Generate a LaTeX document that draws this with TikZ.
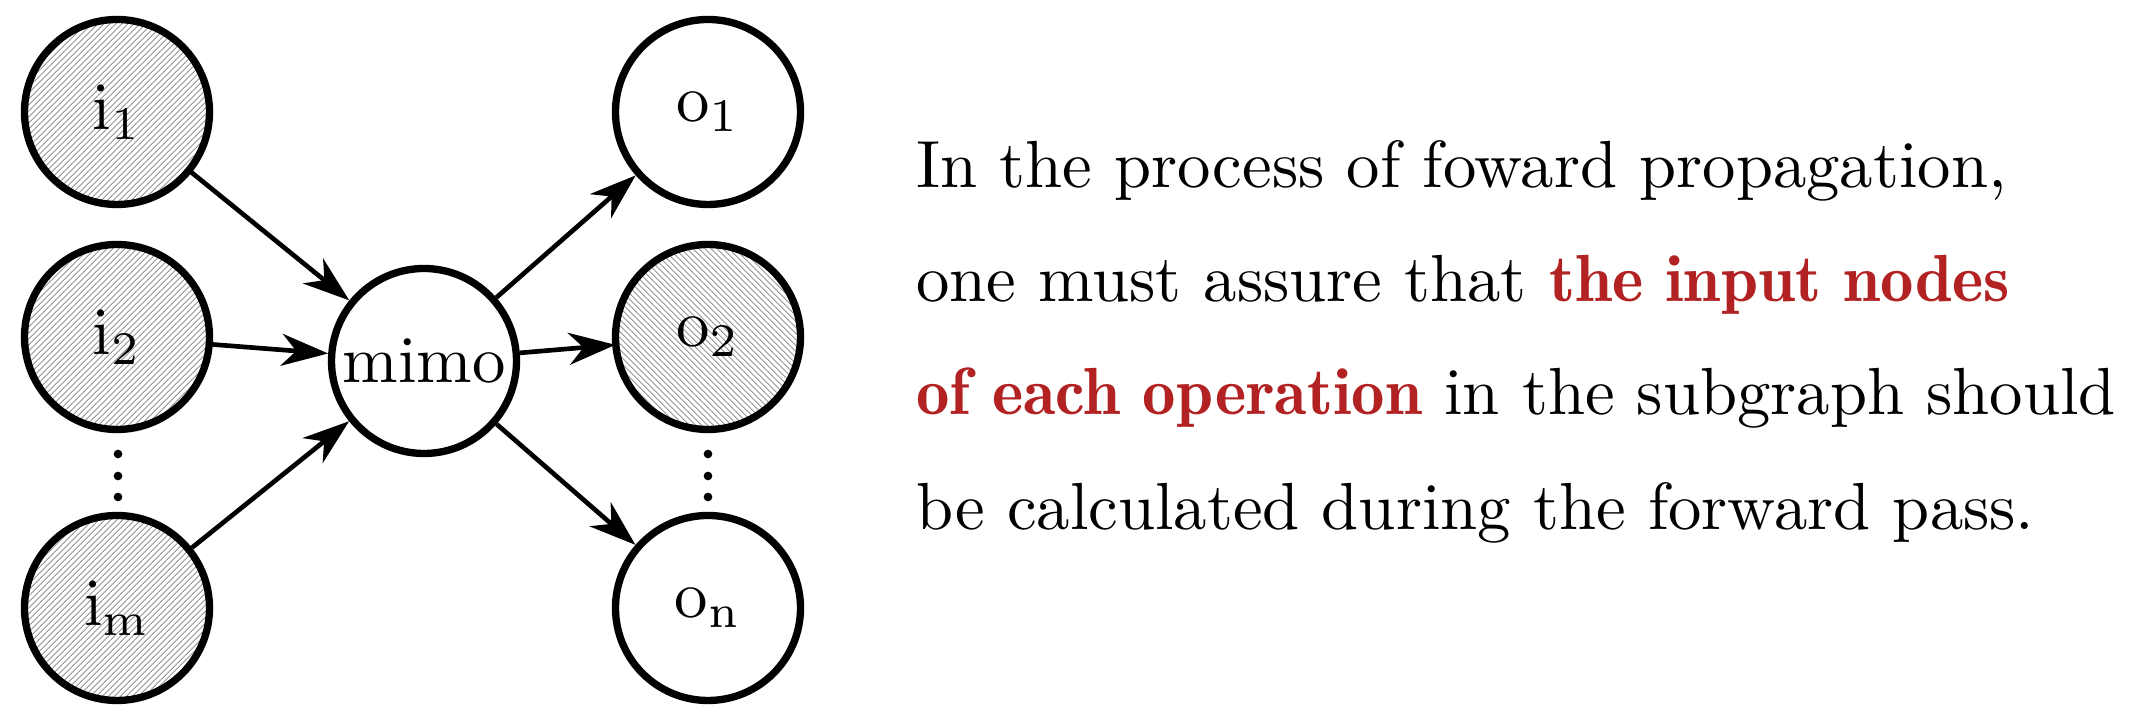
\documentclass[tikz,border=0pt]{standalone}
\usetikzlibrary{arrows.meta,patterns.meta}
\definecolor{hl}{RGB}{178,34,34}
\newcommand{\hlbold}[1]{\textcolor{hl}{\fontseries{b}\selectfont #1}}
\begin{document}
\begin{tikzpicture}[x=0.15pt,y=-0.15pt,
  nd/.style={circle,draw,line width=1.1pt,minimum size=27.75pt,inner sep=0pt},
  hatchne/.style={pattern={Lines[angle=45,distance=0.62pt,line width=0.13pt]},pattern color=black!60},
  hatchnw/.style={pattern={Lines[angle=-45,distance=0.62pt,line width=0.13pt]},pattern color=black!60},
  edgearrow/.style={-{Stealth[length=7pt,width=4.8pt,inset=2.2pt]},line width=0.7pt},
  txt/.style={anchor=base west,inner sep=0pt},
  dotmark/.style={fill=black}]
\useasboundingbox (0,0) rectangle (2154,719);
\node[nd,hatchne] (i1) at (117,112) {$\mathrm{i}_{1}$};
\node[nd,hatchne] (i2) at (117,337) {$\mathrm{i}_{2}$};
\node[nd,hatchne] (im) at (117,608) {$\mathrm{i}_{\mathrm{m}}$};
\node[nd] (mimo) at (424,361) {mimo};
\node[nd] (o1) at (708,112) {$\mathrm{o}_{1}$};
\node[nd,hatchnw] (o2) at (708,337) {$\mathrm{o}_{2}$};
\node[nd] (on) at (708,608) {$\mathrm{o}_{\mathrm{n}}$};
\foreach \yy in {454,476,497}{
  \fill[dotmark] (118,\yy) circle[radius=0.65pt];
  \fill[dotmark] (708,\yy) circle[radius=0.65pt];
}
\draw[edgearrow] (i1) -- (mimo);
\draw[edgearrow] (i2) -- (mimo);
\draw[edgearrow] (im) -- (mimo);
\draw[edgearrow] (mimo) -- (o1);
\draw[edgearrow] (mimo) -- (o2);
\draw[edgearrow] (mimo) -- (on);
\node[txt] (l1) at (915,188) {In the process of foward propagation,};
\node[txt] (l2) at (915,302) {one must assure that \hlbold{the input nodes}};
\node[txt] (l3) at (915,415) {\hlbold{of each operation} in the subgraph should};
\node[txt] (l4) at (915,530) {be calculated during the forward pass.};
\end{tikzpicture}
\end{document}
